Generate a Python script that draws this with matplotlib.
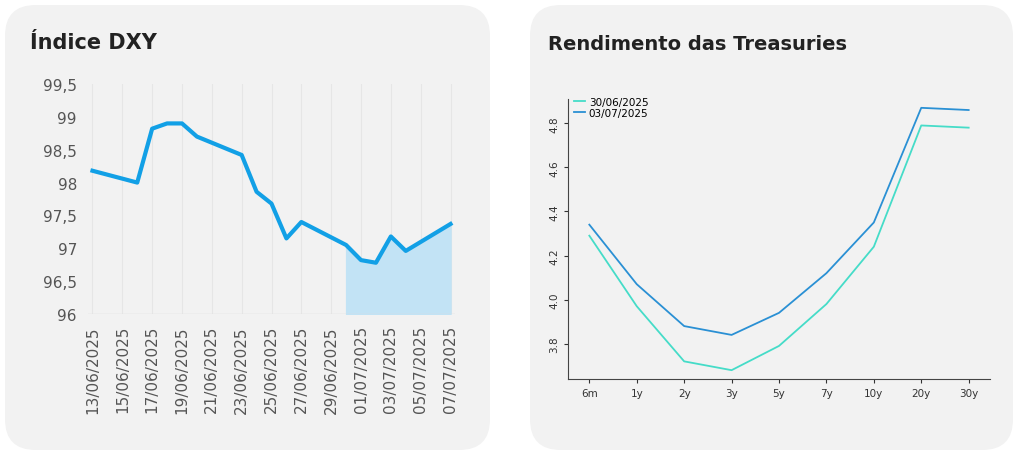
import matplotlib
matplotlib.use("Agg")
import matplotlib.pyplot as plt
from matplotlib.patches import FancyBboxPatch
import datetime as dt

dxy_dates = ["13/06/2025","16/06/2025","17/06/2025","18/06/2025","19/06/2025","20/06/2025",
             "23/06/2025","24/06/2025","25/06/2025","26/06/2025","27/06/2025","30/06/2025",
             "01/07/2025","02/07/2025","03/07/2025","04/07/2025","07/07/2025"]
dxy_values = [98.18, 98.0, 98.82, 98.9, 98.9, 98.7, 98.42, 97.86, 97.68, 97.15, 97.4, 97.05,
              96.82, 96.78, 97.18, 96.96, 97.37]
tick_labels = ["13/06/2025","15/06/2025","17/06/2025","19/06/2025","21/06/2025","23/06/2025",
               "25/06/2025","27/06/2025","29/06/2025","01/07/2025","03/07/2025","05/07/2025","07/07/2025"]
maturities = ["6m","1y","2y","3y","5y","7y","10y","20y","30y"]
curve_3006 = [4.29, 3.97, 3.72, 3.68, 3.79, 3.98, 4.24, 4.79, 4.78]
curve_0307 = [4.34, 4.07, 3.88, 3.84, 3.94, 4.12, 4.35, 4.87, 4.86]

W, H = 1023, 456
fig = plt.figure(figsize=(W/100, H/100), dpi=100)
fig.patch.set_facecolor("white")
bg = "#f2f2f2"
for x0, x1 in [(5, 490), (530, 1013)]:
    p = FancyBboxPatch((x0/W, 5/H), (x1-x0)/W, 445/H,
        boxstyle="round,pad=0,rounding_size=0.03", transform=fig.transFigure,
        facecolor=bg, edgecolor="none", mutation_aspect=W/H, zorder=-10)
    fig.patches.append(p)

fig.text(30/W, 1-43/H, "Índice DXY", fontsize=15, fontweight="bold", color="#222222", va="center")
fig.text(548/W, 1-45/H, "Rendimento das Treasuries", fontsize=14, fontweight="bold", color="#222222", va="center")

base = dt.datetime(2025, 6, 13)
def dnum(s):
    return (dt.datetime.strptime(s, "%d/%m/%Y") - base).days
xs = [dnum(s) for s in dxy_dates]
ax = fig.add_axes([88/W, 1-315/H, 367/W, 230/H])
ax.set_facecolor(bg)
ax.plot(xs, dxy_values, color="#12a0e6", lw=3, solid_joinstyle="round")
i0 = dxy_dates.index("30/06/2025")
ax.fill_between(xs[i0:], 96, dxy_values[i0:], color="#c2e3f5")
ax.set_ylim(96, 99.5)
ax.set_xlim(-0.3, 24.3)
ax.set_yticks([96, 96.5, 97, 97.5, 98, 98.5, 99, 99.5])
ax.set_yticklabels(["96", "96,5", "97", "97,5", "98", "98,5", "99", "99,5"])
ax.set_xticks([dnum(s) for s in tick_labels])
ax.set_xticklabels(tick_labels, rotation=90)
ax.tick_params(length=0, labelsize=11, colors="#555555", pad=8)
ax.grid(axis="x", color="#e6e6e6", lw=0.8)
ax.set_axisbelow(True)
for s in ax.spines.values():
    s.set_visible(False)
ax.axhline(96, color="#dddddd", lw=1)

ax2 = fig.add_axes([568/W, 1-380/H, 422/W, 280/H])
ax2.set_facecolor(bg)
xi = range(len(maturities))
ax2.plot(xi, curve_3006, color="#45dcc8", lw=1.3, label="30/06/2025")
ax2.plot(xi, curve_0307, color="#2a90d4", lw=1.3, label="03/07/2025")
ax2.set_ylim(3.64, 4.91)
ax2.set_xlim(-0.45, 8.45)
ax2.set_xticks(list(xi))
ax2.set_xticklabels(maturities)
ax2.set_yticks([3.8, 4.0, 4.2, 4.4, 4.6, 4.8])
ax2.set_yticklabels(["3.8", "4.0", "4.2", "4.4", "4.6", "4.8"], rotation=90, va="center")
ax2.tick_params(labelsize=7.5, colors="#333333", length=3)
for s in ["top", "right"]:
    ax2.spines[s].set_visible(False)
for s in ["left", "bottom"]:
    ax2.spines[s].set_color("#444444")
ax2.legend(loc="upper left", bbox_to_anchor=(0.0, 1.03), frameon=False, fontsize=7.5,
           handlelength=1.0, labelspacing=0.1, borderaxespad=0.2, handletextpad=0.4)

fig.savefig("out.png", dpi=100, facecolor="white")
